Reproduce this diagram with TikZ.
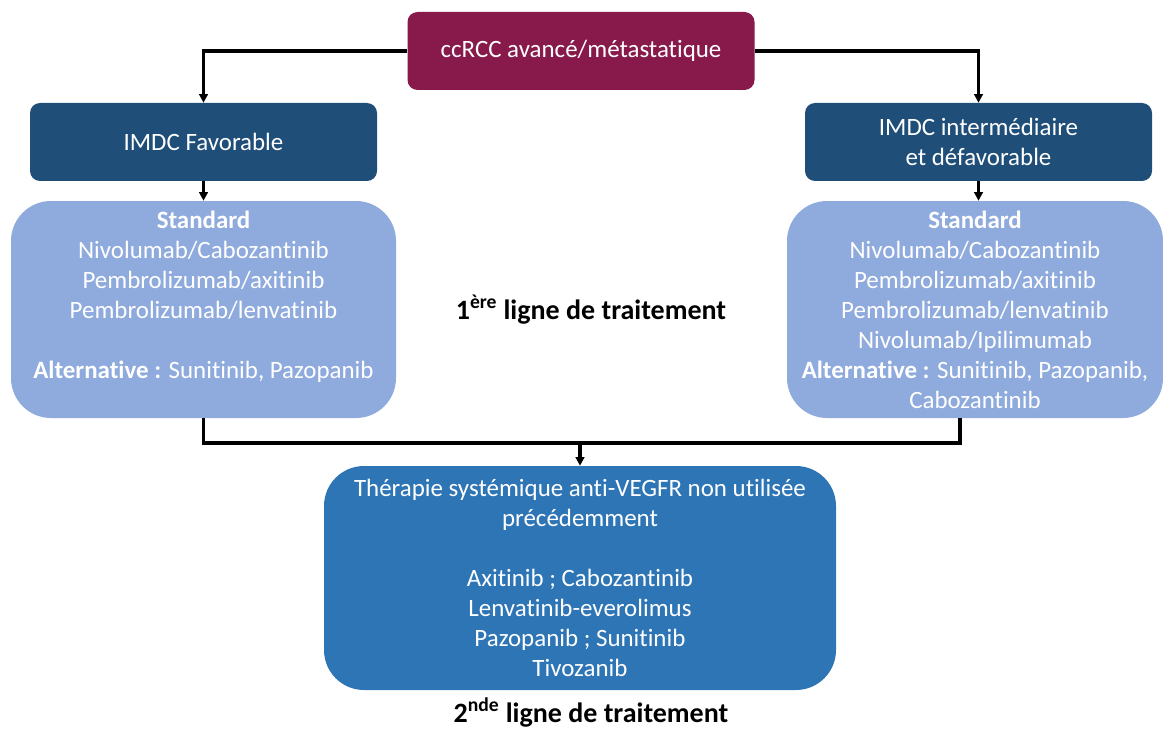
\documentclass[tikz,border=0pt]{standalone}
\usepackage{fontspec}
\setmainfont{Carlito}[Ligatures=NoCommon]
\usetikzlibrary{arrows.meta}

\definecolor{maroon}{HTML}{871A4B}
\definecolor{darkblue}{HTML}{1F4E79}
\definecolor{lightblue}{HTML}{8FAADC}
\definecolor{midblue}{HTML}{2E75B6}

\begin{document}
\begin{tikzpicture}[x=0.75pt,y=-0.75pt]
	\tikzstyle{every node}=[font=\fontsize{18.7}{22.5}\selectfont]
	\tikzstyle{headbox}=[rounded corners=7.5pt, text=white, align=center, minimum width=260.25pt, minimum height=58.5pt]
	\tikzstyle{listbox}=[rounded corners=30pt, text=white, align=center, inner sep=0pt]
	\tikzstyle{wire}=[line width=2.3pt]
	\tikzstyle{arr}=[line width=2.3pt, -{Triangle[length=6.5pt,width=6.5pt]}]
	\useasboundingbox (0,0) rectangle (1163,731);

	\node [headbox, fill=maroon] (top) at (581,51) {ccRCC avancé/métastatique};
	\node [headbox, fill=darkblue] (fav) at (203.5,142) {IMDC Favorable};
	\node [headbox, fill=darkblue] (inter) at (978.5,142) {IMDC intermédiaire\\et défavorable};

	\node [listbox, fill=lightblue, minimum width=288.75pt, minimum height=162.75pt] (stdL) at (203.5,309.5)
	{\textbf{Standard}\\
		Nivolumab/Cabozantinib\\
		Pembrolizumab/axitinib\\
		Pembrolizumab/lenvatinib\\
		\mbox{}\\
		\textbf{Alternative :} Sunitinib, Pazopanib\\
		\mbox{}};
	\node [listbox, fill=lightblue, minimum width=282pt, minimum height=162.75pt] (stdR) at (975,309.5)
	{\textbf{Standard}\\
		Nivolumab/Cabozantinib\\
		Pembrolizumab/axitinib\\
		Pembrolizumab/lenvatinib\\
		Nivolumab/Ipilimumab\\
		\textbf{Alternative :} Sunitinib, Pazopanib,\\
		Cabozantinib};

	\node [listbox, fill=midblue, minimum width=384pt, minimum height=168pt] (second) at (580,578)
	{Thérapie systémique anti-VEGFR non utilisée\\
		précédemment\\
		\mbox{}\\
		Axitinib ; Cabozantinib\\
		Lenvatinib-everolimus\\
		Pazopanib ; Sunitinib\\
		Tivozanib};

	\node [anchor=base, font=\fontsize{21}{25}\selectfont] (line1) at (591,319) {\textbf{1\textsuperscript{ère} ligne de traitement}};
	\node [anchor=base, font=\fontsize{21}{25}\selectfont] (line2) at (591,722) {\textbf{2\textsuperscript{nde} ligne de traitement}};

	\draw [arr] (top.west) -| (fav.north);
	\draw [arr] (top.east) -| (inter.north);
	\draw [arr] (fav.south) -- (stdL.north);
	\draw [arr] (inter.south) -- (inter.south |- stdR.north);

	\coordinate (join) at (580,443);
	\coordinate (jR) at (960,418);
	\draw [wire] (stdL.south) |- (join) -| (jR);
	\draw [arr] (join) -- (second.north);
\end{tikzpicture}
\end{document}
